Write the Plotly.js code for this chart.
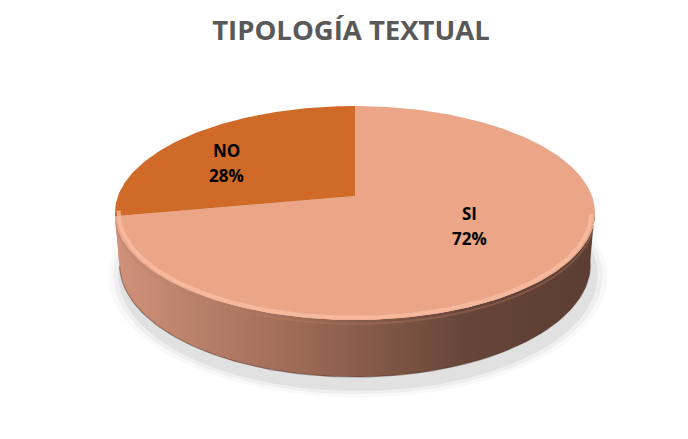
<!DOCTYPE html>
<html>
<head>
<meta charset="utf-8">
<script src="https://cdn.plot.ly/plotly-3.0.1.min.js"></script>
<style>html,body{margin:0;padding:0;background:#fff;}#chart{width:688px;height:439px;}</style>
</head>
<body>
<div id="chart"></div>
<script>
// ---- data ----
const categories = ['SI', 'NO'];
const values = [72, 28];
const topColors = ['#EBA587', '#CF6A28'];
const chartTitle = 'TIPOLOGÍA TEXTUAL';

// ---- 3D projection (perspective view of a disc) ----
const CX = 355, CY = 196, F = 1339, D = 5.65, SA = 0.44, CA = 0.898, H = 0.2415;
function proj(x, y, z) {
  const u = y * CA - z * SA;
  const d = D - z * CA - y * SA;
  return [CX + F * x / d, CY - F * u / d];
}
// theta in degrees clockwise from the back (top of the picture)
function rimPt(theta, y, r) {
  r = r || 1;
  const t = theta * Math.PI / 180;
  return proj(r * Math.sin(t), y, -r * Math.cos(t));
}
function arc(a, b, y, r) {
  const pts = [];
  const n = Math.max(2, Math.ceil(Math.abs(b - a)));
  for (let i = 0; i <= n; i++) pts.push(rimPt(a + (b - a) * i / n, y, r));
  return pts;
}

const total = values.reduce((s, v) => s + v, 0);
const bounds = [];
let acc = 0;
values.forEach(v => { const a = acc / total * 360; acc += v; bounds.push([a, acc / total * 360]); });

const traces = [];
// soft shadow
[1.06, 1.04, 1.02].forEach((r, i) => {
  const pts = arc(0, 360, -H - 0.03, r);
  traces.push({x: pts.map(p => p[0] + 3), y: pts.map(p => p[1] + 4), mode: 'lines', fill: 'toself',
    fillcolor: 'rgba(0,0,0,' + (0.025 + i * 0.015) + ')', line: {width: 0}, hoverinfo: 'skip'});
});

// sides (visible front part)
const sideScales = [
  [[0, '#D0917A'], [0.4, '#9A6853'], [0.72, '#67463A'], [1, '#5B3D31']],
  [[0, '#C98A72'], [1, '#C98A72']]
];
bounds.forEach((b, i) => {
  const a = Math.max(b[0], 97), e = Math.min(b[1], 262);
  if (e <= a) return;
  const top = arc(a, e, 0), bot = arc(e, a, -H);
  const pts = top.concat(bot);
  traces.push({x: pts.map(p => p[0]), y: pts.map(p => p[1]), mode: 'lines', fill: 'toself',
    fillcolor: sideScales[i][0][1],
    fillgradient: {type: 'horizontal', colorscale: sideScales[i], start: 118, stop: 595},
    line: {width: 0}, hoverinfo: 'skip'});
});
// bottom edge dark line
{
  const pts = arc(100, 260, -H);
  traces.push({x: pts.map(p => p[0]), y: pts.map(p => p[1]), mode: 'lines',
    line: {color: 'rgba(70,45,35,0.45)', width: 1.2}, hoverinfo: 'skip'});
}

// top faces
bounds.forEach((b, i) => {
  const pts = [proj(0, 0, 0)].concat(arc(b[0], b[1], 0)).concat([proj(0, 0, 0)]);
  traces.push({x: pts.map(p => p[0]), y: pts.map(p => p[1]), mode: 'lines', fill: 'toself',
    fillcolor: topColors[i], line: {width: 0}, hoverinfo: 'skip'});
});
// soft bevel on front edge of top face
{
  const pts = arc(100, 262, 0, 0.985);
  traces.push({x: pts.map(p => p[0]), y: pts.map(p => p[1]), mode: 'lines',
    line: {color: 'rgba(250,192,165,0.75)', width: 4}, hoverinfo: 'skip'});
  const pts2 = arc(104, 258, -0.01, 1.0);
  traces.push({x: pts2.map(p => p[0]), y: pts2.map(p => p[1] + 1.5), mode: 'lines',
    line: {color: 'rgba(185,125,100,0.35)', width: 2}, hoverinfo: 'skip'});
}

// labels
const labelPos = [[469, 213, 238], [226, 150, 175]];
const annotations = [];
categories.forEach((c, i) => {
  const pct = Math.round(values[i] / total * 100) + '%';
  const f = {family: 'Open Sans, sans-serif', size: 17, color: '#000'};
  annotations.push({x: labelPos[i][0], y: labelPos[i][1], xref: 'x', yref: 'y', text: '<b>' + c + '</b>', showarrow: false, font: f});
  annotations.push({x: labelPos[i][0], y: labelPos[i][2], xref: 'x', yref: 'y', text: '<b>' + pct + '</b>', showarrow: false, font: f});
});

const layout = {
  width: 688, height: 439, autosize: false,
  margin: {l: 0, r: 0, t: 0, b: 0},
  paper_bgcolor: '#fff', plot_bgcolor: '#fff',
  showlegend: false,
  title: {text: '<b>' + chartTitle + '</b>', x: 351 / 688, xanchor: 'center', y: 1 - 30 / 439, yanchor: 'middle', yref: 'container',
    font: {family: 'Open Sans, sans-serif', size: 27.5, color: '#595959'}},
  xaxis: {range: [0, 688], visible: false, fixedrange: true},
  yaxis: {range: [439, 0], visible: false, fixedrange: true},
  annotations: annotations
};
Plotly.newPlot('chart', traces, layout, {staticPlot: true, displayModeBar: false});
</script>
</body>
</html>
